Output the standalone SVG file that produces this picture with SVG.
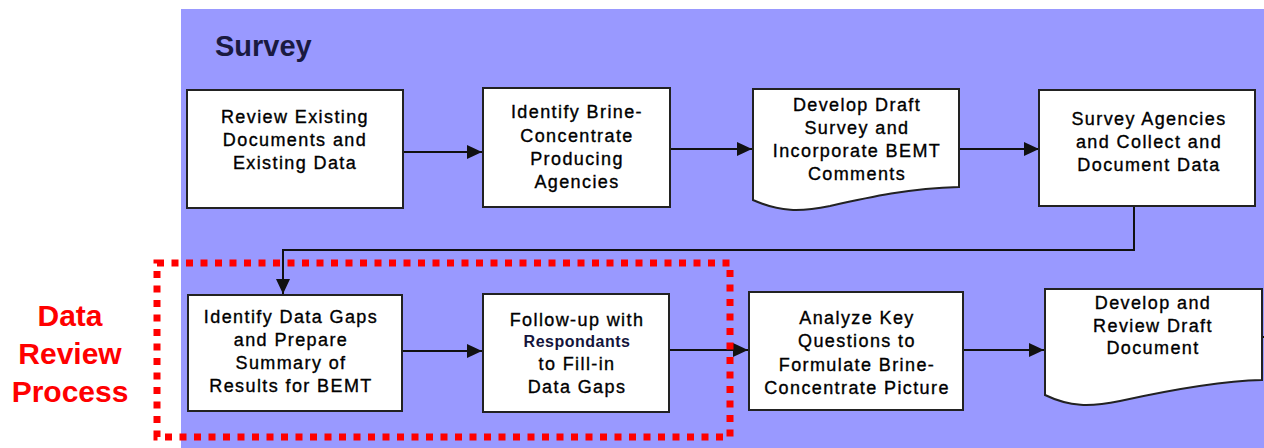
<svg xmlns="http://www.w3.org/2000/svg" width="1264" height="448" viewBox="0 0 1264 448">
<style>
.box{fill:#fff;stroke:#222;stroke-width:2}
.t{font-family:"Liberation Sans",Arial,sans-serif;font-size:18px;letter-spacing:1.4px;fill:#000;stroke:#000;stroke-width:0.35;text-anchor:middle}
.tb{font-family:"Liberation Sans",Arial,sans-serif;font-size:16px;font-weight:bold;letter-spacing:0.5px;fill:#14143c;text-anchor:middle}
.conn{fill:none;stroke:#111;stroke-width:2}
.red{font-family:"Liberation Sans",Arial,sans-serif;font-size:30px;font-weight:bold;fill:#ff0000;text-anchor:middle}
</style>
<defs>
<marker id="ah" markerUnits="userSpaceOnUse" markerWidth="16" markerHeight="14" refX="15" refY="7" orient="auto">
<path d="M0,0 L15,7 L0,14 Z" fill="#111"/>
</marker>
</defs>
<rect x="0" y="0" width="1264" height="448" fill="#fff"/>
<rect id="panel" x="181" y="9" width="1083" height="439" fill="#9999ff"/>
<text x="215" y="56" font-family="Liberation Sans, Arial, sans-serif" font-size="29" font-weight="bold" fill="#1a1a40">Survey</text>

<g id="connectors">
<line class="conn" x1="403" y1="152" x2="482" y2="152" marker-end="url(#ah)"/>
<line class="conn" x1="670" y1="149" x2="752" y2="149" marker-end="url(#ah)"/>
<line class="conn" x1="959" y1="149" x2="1039" y2="149" marker-end="url(#ah)"/>
<polyline class="conn" points="1134,206 1134,250 283,250 283,294" marker-end="url(#ah)"/>
<line class="conn" x1="402" y1="351" x2="482" y2="351" marker-end="url(#ah)"/>
<line class="conn" x1="669" y1="350" x2="748" y2="350" marker-end="url(#ah)"/>
<line class="conn" x1="963" y1="350" x2="1044" y2="350" marker-end="url(#ah)"/>
<line class="conn" x1="1262" y1="337" x2="1264" y2="337"/>
</g>

<g id="n1">
<rect class="box" x="187" y="90" width="216" height="118"/>
<text class="t" x="295" y="123">Review Existing</text>
<text class="t" x="295" y="146">Documents and</text>
<text class="t" x="295" y="169">Existing Data</text>
</g>
<g id="n2">
<rect class="box" x="483" y="88" width="187" height="119"/>
<text class="t" x="577" y="118">Identify Brine-</text>
<text class="t" x="577" y="142">Concentrate</text>
<text class="t" x="577" y="165">Producing</text>
<text class="t" x="577" y="188">Agencies</text>
</g>
<g id="n3">
<path class="box" d="M753,89 H959 V187 C910,188 870,197 830,206 C800,212 780,212 753,200 Z"/>
<text class="t" x="857" y="111">Develop Draft</text>
<text class="t" x="857" y="134">Survey and</text>
<text class="t" x="857" y="157">Incorporate BEMT</text>
<text class="t" x="857" y="180">Comments</text>
</g>
<g id="n4">
<rect class="box" x="1039" y="90" width="216" height="116"/>
<text class="t" x="1149" y="125">Survey Agencies</text>
<text class="t" x="1149" y="148">and Collect and</text>
<text class="t" x="1149" y="171">Document Data</text>
</g>
<g id="n5">
<rect class="box" x="188" y="295" width="214" height="116"/>
<text class="t" x="291" y="323">Identify Data Gaps</text>
<text class="t" x="291" y="346">and Prepare</text>
<text class="t" x="291" y="369">Summary of</text>
<text class="t" x="291" y="392">Results for BEMT</text>
</g>
<g id="n6">
<rect class="box" x="483" y="294" width="186" height="118"/>
<text class="t" x="577" y="326">Follow-up with</text>
<text class="tb" x="577" y="347">Respondants</text>
<text class="t" x="577" y="370">to Fill-in</text>
<text class="t" x="577" y="393">Data Gaps</text>
</g>
<g id="n7">
<rect class="box" x="749" y="292" width="214" height="118"/>
<text class="t" x="857" y="324">Analyze Key</text>
<text class="t" x="857" y="347">Questions to</text>
<text class="t" x="857" y="371">Formulate Brine-</text>
<text class="t" x="857" y="394">Concentrate Picture</text>
</g>
<g id="n8">
<path class="box" d="M1045,289 H1262 V380 C1220,381 1170,390 1120,401 C1090,407 1070,407 1045,395 Z"/>
<text class="t" x="1153" y="309">Develop and</text>
<text class="t" x="1153" y="332">Review Draft</text>
<text class="t" x="1153" y="354">Document</text>
</g>

<g id="data-review">
<rect x="157" y="263" width="573" height="174" fill="none" stroke="#ff0000" stroke-width="7" stroke-dasharray="7 7.5"/>
<text class="red" x="70" y="326">Data</text>
<text class="red" x="70" y="364">Review</text>
<text class="red" x="70" y="402">Process</text>
</g>
</svg>
